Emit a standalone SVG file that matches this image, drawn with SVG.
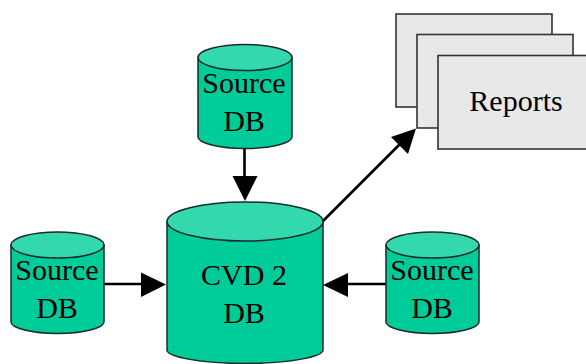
<svg xmlns="http://www.w3.org/2000/svg" width="586" height="364" viewBox="0 0 586 364">
<style>
.body{fill:#00cc99;stroke:#1a2a2a;stroke-width:1.5}
.top{fill:#33d9ad;stroke:#1a2a2a;stroke-width:1.5}
.page{fill:#e8e8e8;stroke:#333;stroke-width:1.6}
.lbl{font-family:"Liberation Serif","Times New Roman",serif;font-size:30px;fill:#000;text-anchor:middle}
.conn{stroke:#000;stroke-width:2.6;fill:none}
.head{fill:#000;stroke:none}
</style>
<rect width="586" height="364" fill="#fff"/>
<g id="connectors">
<line class="conn" x1="244.500" y1="148" x2="244.500" y2="178"/>
<polygon class="head" points="232.500,176 257.500,176 245,201"/>
<line class="conn" x1="104" y1="284" x2="143" y2="284"/>
<polygon class="head" points="141,272.500 141,297 166,284.500"/>
<line class="conn" x1="386" y1="284" x2="346" y2="284"/>
<polygon class="head" points="348,273 348,297 323,285"/>
<line class="conn" x1="323" y1="221" x2="400" y2="144"/>
<polygon class="head" points="391,137 416,128.500 408,154"/>
</g>
<g id="reports">
<rect class="page" x="396" y="14" width="156" height="93"/>
<rect class="page" x="417" y="34.500" width="156" height="93.500"/>
<rect class="page" x="438" y="55.500" width="156" height="93.500"/>
<text class="lbl" x="516" y="111">Reports</text>
</g>
<g id="source-top">
<path class="body" d="M198 57.500V137C198 143 219 148.500 245 148.500S292 143 292 137V57.500Z"/>
<ellipse class="top" cx="245" cy="57.500" rx="47" ry="13"/>
<text class="lbl" x="244" y="93">Source</text>
<text class="lbl" x="244" y="131">DB</text>
</g>
<g id="cvd">
<path class="body" d="M167 221.500V350C167 357 202 363.500 245 363.500S323 357 323 350V221.500Z"/>
<ellipse class="top" cx="245" cy="221.500" rx="78" ry="19.500"/>
<text class="lbl" x="244" y="285">CVD 2</text>
<text class="lbl" x="244" y="323">DB</text>
</g>
<g id="source-left">
<path class="body" d="M11 245V322C11 328 32 333.500 57.500 333.500S104 328 104 322V245Z"/>
<ellipse class="top" cx="57.500" cy="245" rx="46.500" ry="13"/>
<text class="lbl" x="57" y="280">Source</text>
<text class="lbl" x="57" y="318">DB</text>
</g>
<g id="source-right">
<path class="body" d="M386 245V322C386 328 407 333.500 432.500 333.500S479 328 479 322V245Z"/>
<ellipse class="top" cx="432.500" cy="245" rx="46.500" ry="13"/>
<text class="lbl" x="432" y="280">Source</text>
<text class="lbl" x="432" y="318">DB</text>
</g>
</svg>
